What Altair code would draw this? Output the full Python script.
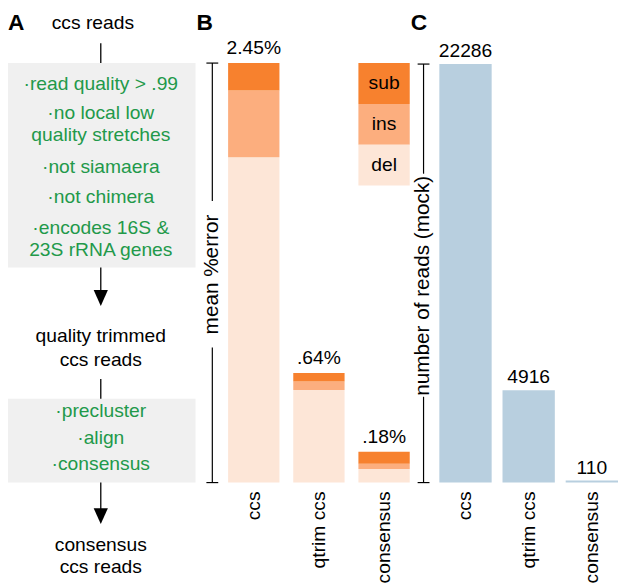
import altair as alt
import pandas as pd

# ---------------- data ----------------
stages = ["ccs", "qtrim ccs", "consensus"]
error_types = ["sub", "ins", "del"]
sub_err = [0.16, 0.05, 0.07]
ins_err = [0.39, 0.05, 0.03]
del_err = [1.90, 0.54, 0.08]
err_totals = [2.45, 0.64, 0.18]
err_labels = ["2.45%", ".64%", ".18%"]
read_counts = [22286, 4916, 110]

flow_texts = ["ccs reads", "·read quality > .99", "·no local low", "quality stretches",
              "·not siamaera", "·not chimera", "·encodes 16S &", "23S rRNA genes",
              "quality trimmed", "ccs reads", "·precluster", "·align", "·consensus",
              "consensus", "ccs reads"]
flow_is_filter = [False, True, True, True, True, True, True, True,
                  False, False, True, True, True, False, False]

# ---------------- style / layout ----------------
FONT = "Liberation Sans"
FS = 19.5
err_colors = ["#f7812e", "#fcae7e", "#fde6d7"]
BLUE = "#b8cfdf"
GREEN = "#22994a"
GRAY = "#f0f0f0"
H = 578
A_W, B_W, C_W = 191, 217, 210

# panel A layout (pixels inside panel A)
flow_y = [11, 73, 103, 125, 157, 188, 219, 241, 329, 353, 405, 432, 458, 540, 563]
flow_x = [86] + [94] * 14
box_y = [(52, 259), (392, 477)]
link_y = [(32, 52), (259, 290), (372, 392), (477, 511)]
head_y = [290, 511]
CX = 94

ax = alt.Scale(domain=[0, A_W], range=[0, A_W])
ay = alt.Scale(domain=[0, H], range=[0, H])

boxes = pd.DataFrame({"x": [0, 0], "x2": [190, 190],
                      "y": [b[0] for b in box_y], "y2": [b[1] for b in box_y]})
box_layer = alt.Chart(boxes).mark_rect(color=GRAY).encode(
    x=alt.X("x:Q", scale=ax, axis=None), x2="x2:Q",
    y=alt.Y("y:Q", scale=ay, axis=None), y2="y2:Q")

links = pd.DataFrame({"x": [CX] * len(link_y), "y": [l[0] for l in link_y],
                      "y2": [l[1] for l in link_y]})
link_layer = alt.Chart(links).mark_rule(color="black", strokeWidth=1.3).encode(
    x=alt.X("x:Q", scale=ax, axis=None),
    y=alt.Y("y:Q", scale=ay, axis=None), y2="y2:Q")

heads = pd.DataFrame({"x": [CX] * len(head_y), "y": head_y})
head_layer = alt.Chart(heads).mark_point(
    shape="M-0.9,-1L0.9,-1L0,1Z", size=256, filled=True, color="black", opacity=1
).encode(x=alt.X("x:Q", scale=ax, axis=None), y=alt.Y("y:Q", scale=ay, axis=None))

flow_df = pd.DataFrame({"text": flow_texts, "x": flow_x, "y": flow_y,
                        "color": [GREEN if f else "black" for f in flow_is_filter]})
text_layer = alt.Chart(flow_df).mark_text(fontSize=FS, font=FONT, baseline="middle").encode(
    x=alt.X("x:Q", scale=ax, axis=None), y=alt.Y("y:Q", scale=ay, axis=None),
    text="text:N", color=alt.Color("color:N", scale=None))


def letter(ch):
    return alt.Chart(pd.DataFrame({"t": [ch]})).mark_text(
        fontSize=23, fontWeight="bold", font=FONT, align="left", baseline="top"
    ).encode(text="t:N", x=alt.value(0), y=alt.value(0))


panelA = alt.layer(box_layer, link_layer, head_layer, text_layer, letter("A")).properties(
    width=A_W, height=H)


def axis_layers(scale, vmax, line_x, cap, gap_lo, gap_hi, title, title_pos, title_size):
    seg = pd.DataFrame({"y": [0, gap_hi * vmax], "y2": [gap_lo * vmax, vmax]})
    seg_layer = alt.Chart(seg).mark_rule(color="black", strokeWidth=1.2).encode(
        x=alt.value(line_x), y=alt.Y("y:Q", scale=scale, axis=None), y2="y2:Q")
    caps = pd.DataFrame({"y": [0, vmax]})
    cap_layer = alt.Chart(caps).mark_rule(color="black", strokeWidth=1.2).encode(
        x=alt.value(line_x - cap), x2=alt.value(line_x + cap),
        y=alt.Y("y:Q", scale=scale, axis=None))
    tdf = pd.DataFrame({"y": [title_pos * vmax], "t": [title]})
    title_layer = alt.Chart(tdf).mark_text(
        angle=270, fontSize=title_size, font=FONT, baseline="middle", align="center"
    ).encode(x=alt.value(line_x), y=alt.Y("y:Q", scale=scale, axis=None), text="t:N")
    return [seg_layer, cap_layer, title_layer]


def xlabels(scale):
    return alt.Chart(pd.DataFrame({"stage": stages})).mark_text(
        angle=270, align="right", baseline="middle", fontSize=FS, font=FONT
    ).encode(x=alt.X("stage:N", scale=scale, axis=None), y=alt.value(486), text="stage:N")


# ---------------- panel B ----------------
xb = alt.Scale(domain=stages, range=[32, 216], paddingInner=14 / 66, paddingOuter=0)
yb = alt.Scale(domain=[0, err_totals[0]], range=[477, 52], nice=False, zero=True)
color_b = alt.Scale(domain=error_types, range=err_colors)

rows = []
for i, s in enumerate(stages):
    for t, vals, o in [("del", del_err, 0), ("ins", ins_err, 1), ("sub", sub_err, 2)]:
        rows.append({"stage": s, "type": t, "value": vals[i], "ord": o})
err_df = pd.DataFrame(rows)

bars_b = alt.Chart(err_df).mark_bar().encode(
    x=alt.X("stage:N", scale=xb, axis=None),
    y=alt.Y("value:Q", scale=yb, axis=None, stack="zero"),
    color=alt.Color("type:N", scale=color_b, legend=None),
    order=alt.Order("ord:Q", sort="ascending"))

tot_df = pd.DataFrame({"stage": stages, "total": err_totals, "label": err_labels})
tot_b = alt.Chart(tot_df).mark_text(fontSize=FS, font=FONT, baseline="alphabetic", dy=-9).encode(
    x=alt.X("stage:N", scale=xb, axis=None),
    y=alt.Y("total:Q", scale=yb, axis=None), text="label:N")

leg_df = pd.DataFrame({"stage": ["consensus"] * 3, "type": error_types})
leg_y = alt.Scale(domain=error_types, range=[52, 176], paddingInner=0, paddingOuter=0)
leg_bars = alt.Chart(leg_df).mark_bar().encode(
    x=alt.X("stage:N", scale=xb, axis=None),
    y=alt.Y("type:N", scale=leg_y, axis=None),
    color=alt.Color("type:N", scale=color_b, legend=None))
leg_text = alt.Chart(leg_df).mark_text(fontSize=FS, font=FONT, baseline="middle").encode(
    x=alt.X("stage:N", scale=xb, axis=None),
    y=alt.Y("type:N", scale=leg_y, axis=None), text="type:N")

panelB = alt.layer(
    bars_b, tot_b, leg_bars, leg_text,
    *axis_layers(yb, err_totals[0], 16, 6, 0.322, 0.671, "mean %error", 0.496, 21),
    xlabels(xb), letter("B")
).resolve_scale(y="independent").properties(width=B_W, height=H)

# ---------------- panel C ----------------
xc = alt.Scale(domain=stages, range=[29, 210], paddingInner=11 / 64, paddingOuter=0)
yc = alt.Scale(domain=[0, read_counts[0]], range=[477, 53], nice=False, zero=True)
cnt_df = pd.DataFrame({"stage": stages, "count": read_counts})

bars_c = alt.Chart(cnt_df).mark_bar(color=BLUE).encode(
    x=alt.X("stage:N", scale=xc, axis=None),
    y=alt.Y("count:Q", scale=yc, axis=None))
tot_c = alt.Chart(cnt_df).mark_text(fontSize=FS, font=FONT, baseline="alphabetic", dy=-7).encode(
    x=alt.X("stage:N", scale=xc, axis=None),
    y=alt.Y("count:Q", scale=yc, axis=None), text=alt.Text("count:Q", format="d"))

panelC = alt.layer(
    bars_c, tot_c,
    *axis_layers(yc, read_counts[0], 13, 6, 0.205, 0.738, "number of reads (mock)", 0.47, 21),
    xlabels(xc), letter("C")
).properties(width=C_W, height=H)

chart = alt.hconcat(panelA, panelB, panelC, spacing=0, bounds="flush").properties(
    padding=0
).configure(font=FONT).configure_view(stroke=None)

chart.save("out.html", embed_options={"renderer": "svg", "actions": False})
